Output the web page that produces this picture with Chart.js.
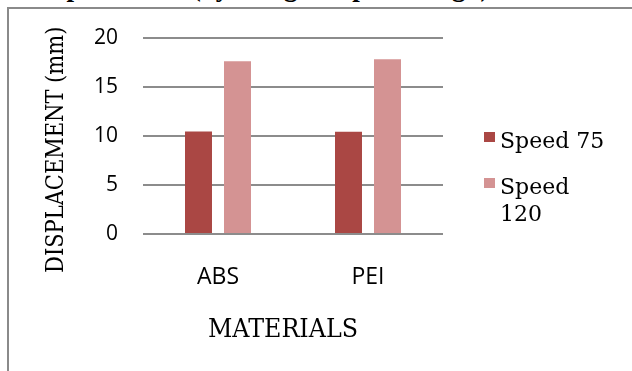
<!DOCTYPE html>
<html>
<head>
<meta charset="utf-8">
<title>Displacement by material</title>
<script src="https://cdn.jsdelivr.net/npm/chart.js@4.4.1/dist/chart.umd.min.js"></script>
<style>
  html, body { margin: 0; padding: 0; background: #ffffff; }
  #wrap { position: relative; width: 632px; height: 371px; overflow: hidden; background: #ffffff; }
  #heading {
    position: absolute; left: 29px; top: -26px; margin: 0;
    font: bold 27px "Liberation Serif", serif; line-height: 27px;
    white-space: nowrap; color: #000000;
  }
  #frame {
    position: absolute; left: 7px; top: 7px; width: 700px; height: 420px;
    border-left: 2px solid #8a8a8a; border-top: 2px solid #8a8a8a;
  }
  #chart { position: absolute; left: 0; top: 0; }
  .legend-item { position: absolute; left: 484px; width: 130px; }
  .legend-swatch { position: absolute; left: 0; top: 5px; width: 11px; height: 10px; }
  .legend-text {
    position: absolute; left: 16px; width: 112px;
    font: 22px "DejaVu Serif", serif; line-height: 27px; color: #000000;
  }
</style>
</head>
<body>
<div id="wrap">
  <div id="heading">Displacement (by using complex design)</div>
  <div id="frame"></div>
  <canvas id="chart" width="632" height="371"></canvas>
  <div id="legend"></div>
</div>
<script>
// Categories and series values
const materials = ['ABS', 'PEI'];
const speed75 = [10.45, 10.4];
const speed120 = [17.6, 17.8];

// Series names and fill colours
const seriesNames = ['Speed 75', 'Speed 120'];
const seriesColors = ['#AA4744', '#D49393'];

// Value axis ticks and axis titles
const yTicks = [0, 5, 10, 15, 20];
const xAxisTitle = 'MATERIALS';
const yAxisTitle = 'DISPLACEMENT (mm)';

// Tall, slightly condensed serif text
function condensedText(ctx, text, size, squeeze) {
  ctx.font = size + 'px "DejaVu Serif"';
  ctx.save();
  ctx.scale(squeeze, 1);
  ctx.fillText(text, 0, 0);
  ctx.restore();
}

// Serif axis titles, drawn relative to the plot area
const axisTitles = {
  id: 'axisTitles',
  afterDraw(chart) {
    const { ctx, chartArea: a } = chart;
    ctx.save();
    ctx.fillStyle = '#000000';
    ctx.textAlign = 'center';
    ctx.textBaseline = 'middle';
    ctx.save();
    ctx.translate((a.left + a.right) / 2 - 10, a.bottom + 96);
    condensedText(ctx, xAxisTitle, 26, 0.915);
    ctx.restore();
    ctx.translate(56, (a.top + a.bottom) / 2 + 14);
    ctx.rotate(-Math.PI / 2);
    condensedText(ctx, yAxisTitle, 25, 0.84);
    ctx.restore();
  }
};

const seriesValues = [speed75, speed120];

new Chart(document.getElementById('chart'), {
  type: 'bar',
  data: {
    labels: materials,
    datasets: seriesNames.map((name, i) => ({
      label: name,
      data: seriesValues[i],
      backgroundColor: seriesColors[i],
      borderWidth: 0,
      categoryPercentage: 0.52,
      barPercentage: 0.692
    }))
  },
  options: {
    responsive: false,
    animation: false,
    devicePixelRatio: 1,
    layout: { padding: { top: 35, right: 189, bottom: 0, left: 0 } },
    plugins: {
      legend: { display: false },
      tooltip: { enabled: false },
      title: { display: false }
    },
    scales: {
      x: {
        grid: { display: false },
        border: { display: false },
        ticks: { color: '#000000', font: { family: 'Open Sans', size: 23 }, padding: 22 },
        afterFit(scale) { scale.height = 137; }
      },
      y: {
        min: yTicks[0],
        max: yTicks[yTicks.length - 1],
        afterBuildTicks(scale) { scale.ticks = yTicks.map(v => ({ value: v })); },
        ticks: { color: '#000000', font: { family: 'Open Sans', size: 21 }, padding: 25 },
        grid: { color: '#8c8c8c', lineWidth: 2, drawTicks: false },
        border: { display: false },
        afterFit(scale) { scale.width = 143; }
      }
    }
  },
  plugins: [axisTitles]
});

// Legend built from the series names and colours
const legend = document.getElementById('legend');
const legendTops = [127, 173];
seriesNames.forEach((name, i) => {
  const item = document.createElement('div');
  item.className = 'legend-item';
  item.style.top = legendTops[i] + 'px';
  const sw = document.createElement('div');
  sw.className = 'legend-swatch';
  sw.style.background = seriesColors[i];
  const tx = document.createElement('div');
  tx.className = 'legend-text';
  tx.textContent = name;
  item.appendChild(sw);
  item.appendChild(tx);
  legend.appendChild(item);
});
</script>
</body>
</html>
